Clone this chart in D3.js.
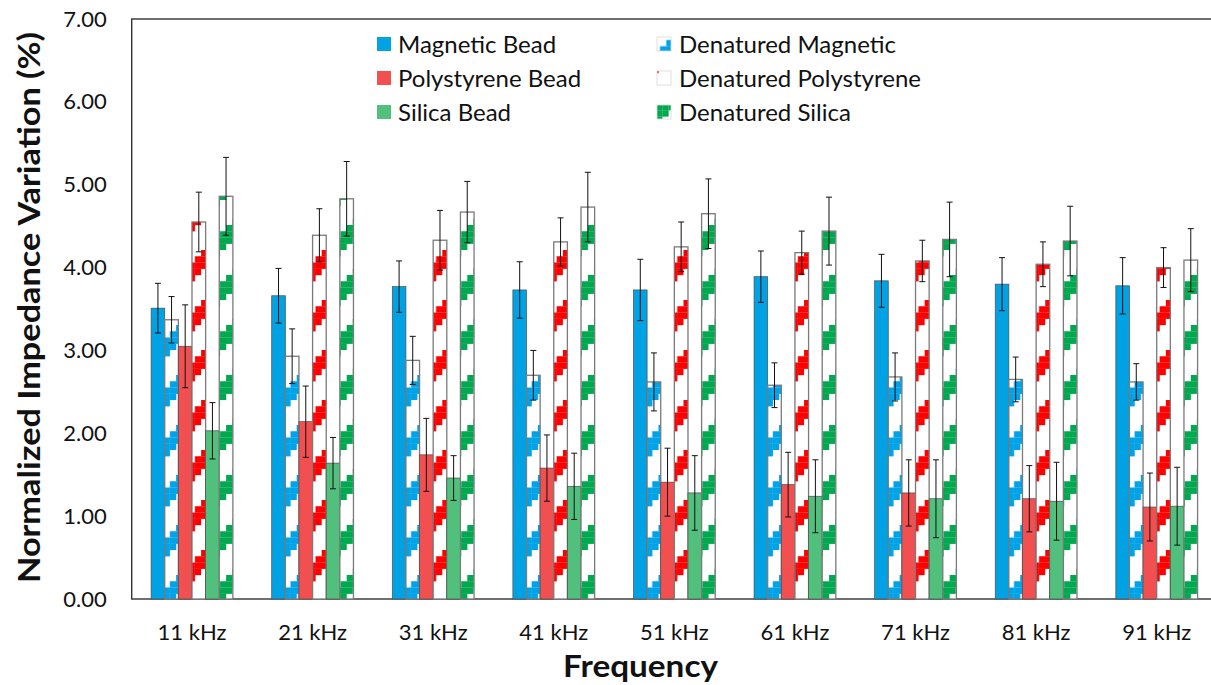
<!DOCTYPE html>
<html>
<head>
<meta charset="utf-8">
<script src="https://cdn.jsdelivr.net/npm/d3@7"></script>
<style>
	body { margin: 0; background: #fff; overflow: hidden; }
	text { font-family: Lato, "Open Sans", sans-serif; fill: #111; }
</style>
</head>
<body>
<div id="chart"></div>
<script>
// chart values
var categories = ["11 kHz", "21 kHz", "31 kHz", "41 kHz", "51 kHz", "61 kHz", "71 kHz", "81 kHz", "91 kHz"];
var seriesNames = ["Magnetic Bead", "Denatured Magnetic", "Polystyrene Bead", "Denatured Polystyrene", "Silica Bead", "Denatured Silica"];
var yTicks = [0, 1, 2, 3, 4, 5, 6, 7];

var magneticBead = [3.51, 3.66, 3.77, 3.73, 3.73, 3.89, 3.84, 3.80, 3.78];
var magneticBeadErr = [0.30, 0.33, 0.31, 0.34, 0.37, 0.31, 0.32, 0.32, 0.34];
var denaturedMagnetic = [3.37, 2.93, 2.88, 2.70, 2.62, 2.58, 2.68, 2.65, 2.62];
var denaturedMagneticErr = [0.28, 0.33, 0.29, 0.30, 0.35, 0.27, 0.29, 0.27, 0.22];
var polystyreneBead = [3.05, 2.14, 1.74, 1.58, 1.41, 1.38, 1.28, 1.21, 1.11];
var polystyreneBeadErr = [0.50, 0.43, 0.44, 0.40, 0.41, 0.39, 0.40, 0.40, 0.41];
var denaturedPolystyrene = [4.55, 4.39, 4.33, 4.31, 4.25, 4.18, 4.08, 4.04, 4.00];
var denaturedPolystyreneErr = [0.36, 0.32, 0.36, 0.29, 0.30, 0.26, 0.25, 0.27, 0.24];
var silicaBead = [2.03, 1.64, 1.46, 1.36, 1.28, 1.24, 1.21, 1.18, 1.12];
var silicaBeadErr = [0.34, 0.31, 0.27, 0.40, 0.45, 0.44, 0.47, 0.47, 0.47];
var denaturedSilica = [4.86, 4.83, 4.67, 4.73, 4.65, 4.44, 4.34, 4.32, 4.09];
var denaturedSilicaErr = [0.47, 0.45, 0.37, 0.42, 0.42, 0.41, 0.45, 0.42, 0.38];

var seriesValues = [magneticBead, denaturedMagnetic, polystyreneBead, denaturedPolystyrene, silicaBead, denaturedSilica];
var seriesErrors = [magneticBeadErr, denaturedMagneticErr, polystyreneBeadErr, denaturedPolystyreneErr, silicaBeadErr, denaturedSilicaErr];

var width = 1211,
	height = 685,
	plotLeft = 131.7,
	plotRight = 1217,
	plotTop = 19,
	plotBottom = 599,
	px = 6.25; // pattern "pixel" size

var styles = [
	{ fill: "#00a2e3", hatch: null },
	{ fill: null, hatch: "#00a2e8" },
	{ fill: "#f25050", hatch: null },
	{ fill: null, hatch: "#ff0000" },
	{ fill: "#50c07c", hatch: null },
	{ fill: null, hatch: "#00a84f" }
];

var svg = d3.select("#chart")
	.append("svg")
	.attr("width", width)
	.attr("height", height);

var defs = svg.append("defs");

// wide upward diagonal, blown up like a pixel pattern
function makePattern(id, color, ox, oy) {
	var p = defs.append("pattern")
		.attr("id", id)
		.attr("patternUnits", "userSpaceOnUse")
		.attr("x", ox)
		.attr("y", oy)
		.attr("width", px * 8)
		.attr("height", px * 8);
	p.append("rect").attr("width", px * 8).attr("height", px * 8).attr("fill", "#fff");
	for (var i = 0; i < 8; i++) {
		for (var j = 0; j < 8; j++) {
			if ((i + j) % 8 < 3) {
				p.append("rect")
					.attr("x", i * px)
					.attr("y", j * px)
					.attr("width", px + 0.15)
					.attr("height", px + 0.15)
					.attr("fill", color);
			}
		}
	}
}

styles.forEach(function(s, k) {
	if (s.hatch) makePattern("hatch" + k, s.hatch, 0, 0);
});

var x0 = d3.scaleBand()
	.domain(categories)
	.range([plotLeft, plotRight])
	.paddingInner(0.322)
	.paddingOuter(0.161);

var x1 = d3.scaleBand()
	.domain(d3.range(seriesNames.length))
	.range([0, x0.bandwidth()]);

var y = d3.scaleLinear()
	.domain([0, 7])
	.range([plotBottom, plotTop]);

// frame
svg.append("rect")
	.attr("x", plotLeft)
	.attr("y", plotTop)
	.attr("width", plotRight - plotLeft)
	.attr("height", plotBottom - plotTop)
	.attr("fill", "none")
	.attr("stroke", "#333")
	.attr("stroke-width", 1.4);

var groups = svg.selectAll("g.group")
	.data(categories)
	.enter().append("g")
	.attr("class", "group")
	.attr("transform", function(d) { return "translate(" + x0(d) + ",0)"; });

function rowData(d, i) {
	return seriesValues.map(function(vals, k) { return { k: k, v: vals[i], e: seriesErrors[k][i] }; });
}

groups.selectAll("rect")
	.data(rowData)
	.enter().append("rect")
	.attr("x", function(d) { return x1(d.k); })
	.attr("y", function(d) { return y(d.v); })
	.attr("width", x1.bandwidth())
	.attr("height", function(d) { return y(0) - y(d.v); })
	.attr("fill", function(d) { return styles[d.k].fill || "url(#hatch" + d.k + ")"; })
	.attr("stroke", function(d) { return styles[d.k].fill ? "#4d4d4d" : "#7a7a7a"; })
	.attr("stroke-width", function(d) { return styles[d.k].fill ? 0.7 : 1.3; });

// error bars
var errs = groups.selectAll("g.err")
	.data(rowData)
	.enter().append("g")
	.attr("class", "err")
	.attr("transform", function(d) { return "translate(" + (x1(d.k) + x1.bandwidth() / 2) + ",0)"; })
	.attr("stroke", "#111")
	.attr("stroke-width", 1);

errs.append("line")
	.attr("y1", function(d) { return y(d.v - d.e); })
	.attr("y2", function(d) { return y(d.v + d.e); });
errs.append("line")
	.attr("x1", -3).attr("x2", 3)
	.attr("y1", function(d) { return y(d.v + d.e); })
	.attr("y2", function(d) { return y(d.v + d.e); });
errs.append("line")
	.attr("x1", -3).attr("x2", 3)
	.attr("y1", function(d) { return y(d.v - d.e); })
	.attr("y2", function(d) { return y(d.v - d.e); });

// axes
var yAxis = svg.append("g")
	.attr("transform", "translate(" + plotLeft + ",0)")
	.call(d3.axisLeft(y).tickValues(yTicks).tickFormat(d3.format(".2f")).tickSize(0).tickPadding(25));
yAxis.select(".domain").remove();
yAxis.selectAll("text").style("font-size", "22px").attr("fill", "#1a1a1a");

var xAxis = svg.append("g")
	.attr("transform", "translate(0," + plotBottom + ")")
	.call(d3.axisBottom(x0).tickSize(0).tickPadding(25));
xAxis.select(".domain").remove();
xAxis.selectAll("text").style("font-size", "22px").attr("fill", "#1a1a1a");

svg.append("text")
	.attr("transform", "translate(40,307.5) rotate(-90)")
	.attr("text-anchor", "middle")
	.attr("textLength", 551)
	.attr("lengthAdjust", "spacingAndGlyphs")
	.style("font-size", "31px")
	.style("font-weight", "bold")
	.text("Normalized Impedance Variation (%)");

svg.append("text")
	.attr("x", 640.5)
	.attr("y", 677)
	.attr("text-anchor", "middle")
	.attr("textLength", 155)
	.attr("lengthAdjust", "spacingAndGlyphs")
	.style("font-size", "30px")
	.style("font-weight", "bold")
	.text("Frequency");

// legend
var legendCols = [377, 657],
	legendRows = [37, 71, 105],
	sw = 14;

// pixel grid offsets so each small swatch shows the same corner of the stripe as the original
var legendShift = { 1: [15.5, -3.25], 3: [-17, -4.5], 5: [-1, -1] };

seriesNames.forEach(function(name, k) {
	var lx = legendCols[k % 2],
		ly = legendRows[Math.floor(k / 2)];
	var fill = styles[k].fill;
	if (!fill) {
		makePattern("leg" + k, styles[k].hatch, lx + legendShift[k][0], ly + legendShift[k][1]);
		fill = "url(#leg" + k + ")";
	}
	svg.append("rect")
		.attr("x", lx)
		.attr("y", ly)
		.attr("width", sw)
		.attr("height", sw)
		.attr("fill", fill)
		.attr("stroke", styles[k].fill ? "none" : "#d8d8d8")
		.attr("stroke-width", 0.8);
	svg.append("text")
		.attr("x", lx + (k % 2 ? 22 : 21))
		.attr("y", ly + 15.5)
		.style("font-size", "24px")
		.text(name);
});
</script>
</body>
</html>
